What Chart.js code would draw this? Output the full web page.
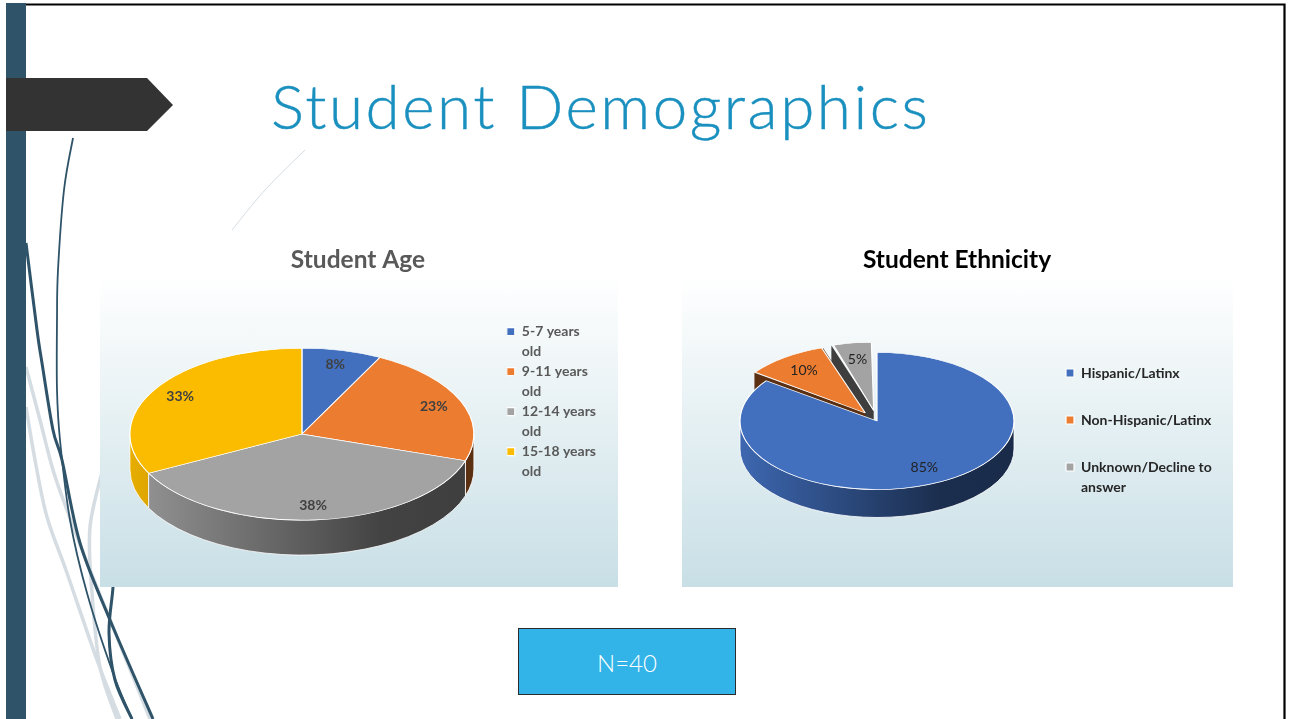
<!DOCTYPE html>
<html>
<head>
<meta charset="utf-8">
<title>Student Demographics</title>
<script src="https://cdn.jsdelivr.net/npm/chart.js@4"></script>
<style>
  html, body { margin: 0; padding: 0; background: #fff; overflow: hidden; }
  body { position: relative; width: 1291px; height: 719px; font-family: Lato, sans-serif; }
  #decor { position: absolute; left: 0; top: 0; }
  .panel { position: absolute; top: 277px; height: 310px; background: linear-gradient(#ffffff, #c8dfe6); }
  canvas.pie { position: absolute; top: 240px; }
  #slideTitle { position: absolute; left: 271px; top: 68px; font: 300 62px Lato, sans-serif; color: #1a90bf; white-space: nowrap; letter-spacing: 2.5px; -webkit-text-stroke: 0.4px #1a90bf; }
  #nBox { position: absolute; left: 518px; top: 627.5px; width: 216px; height: 65px; background: #32b4e8; border: 1.5px solid #2b2b2b;
          color: #fff; font: 300 24px Lato, sans-serif; line-height: 67px; text-align: center; }
</style>
</head>
<body>
<svg id="decor" width="1291" height="719"></svg>
<div class="panel" style="left:100px;width:518px"></div>
<div class="panel" style="left:682px;width:551px"></div>
<div id="slideTitle">Student Demographics</div>
<div id="nBox">N=40</div>
<canvas id="ageChart" class="pie" width="600" height="347" style="left:58px"></canvas>
<canvas id="ethChart" class="pie" width="600" height="347" style="left:657px"></canvas>

<script>
// data (counts out of N=40)
var ageLabels = [['5-7 years', 'old'], ['9-11 years', 'old'], ['12-14 years', 'old'], ['15-18 years', 'old']];
var ageCounts = [3, 9, 15, 13];
var ageColors = ['#4270BF', '#EC7C30', '#A3A3A3', '#FBBC00'];

var ethLabels = ['Hispanic/Latinx', 'Non-Hispanic/Latinx', ['Unknown/Decline to', 'answer']];
var ethCounts = [34, 4, 2];
var ethColors = ['#4270BF', '#EC7C30', '#A3A3A3'];
var ethOffsets = [0, 80, 84];

// slide background: bar, arrow, frame and the swooshes
var darkCurves = [
  [[73,138],[64,190],[58,270],[57,320],[57,390],[60,440],[70,520],[87,593],[113,673],[132,719]],
  [[26,243],[37,330],[42,363],[53,430],[62,460],[80,543],[110,620],[153,719]],
  [[113,560],[113,587],[109,633],[115,680],[132,719]]
];
var greyCurves = [
  [[26,367],[40,420],[53,470],[67,510],[90,570],[113,627],[150,719]],
  [[26,407],[35,460],[47,517],[67,573],[97,660],[120,719]],
  [[104,465],[90,527],[92,593],[100,667],[117,719]],
  [[305,150],[265,190],[232,230]]
];

function smoothPath(pts) {
  var d = 'M' + pts[0][0] + ' ' + pts[0][1];
  for (var i = 0; i < pts.length - 1; i++) {
    var p0 = pts[Math.max(i - 1, 0)], p1 = pts[i], p2 = pts[i + 1], p3 = pts[Math.min(i + 2, pts.length - 1)];
    d += ' C' + (p1[0] + (p2[0] - p0[0]) / 6) + ' ' + (p1[1] + (p2[1] - p0[1]) / 6) + ' ' +
         (p2[0] - (p3[0] - p1[0]) / 6) + ' ' + (p2[1] - (p3[1] - p1[1]) / 6) + ' ' + p2[0] + ' ' + p2[1];
  }
  return d;
}

var svg = '';
greyCurves.forEach(function (c, i) {
  svg += '<path d="' + smoothPath(c) + '" fill="none" stroke="#d5dde3" stroke-width="' + (i === 3 ? 1 : 3.5) + '"/>';
});
darkCurves.forEach(function (c, i) {
  svg += '<path d="' + smoothPath(c) + '" fill="none" stroke="#2f5369" stroke-width="' + (i === 0 ? 1.8 : 3) + '"/>';
});
svg += '<rect x="6" y="3" width="20" height="716" fill="#2f5369"/>';
svg += '<path d="M26 4.5H1284.5V719" fill="none" stroke="#000" stroke-width="2.2"/>';
svg += '<polygon points="6,78 147,78 173,105 147,131 6,131" fill="#333"/>';
document.getElementById('decor').innerHTML = svg;

// flat pie -> tilted 3D pie: squash the tops, draw the walls underneath
function shade(hex, f) {
  var n = parseInt(hex.slice(1), 16);
  return 'rgb(' + Math.round((n >> 16 & 255) * f) + ',' + Math.round((n >> 8 & 255) * f) + ',' + Math.round((n & 255) * f) + ')';
}

var pie3d = {
  id: 'pie3d',
  afterLayout: function (chart) {
    // keep the title centred on the canvas whatever the layout padding is
    chart.titleBlock.left = 0;
    chart.titleBlock.right = chart.width;
  },
  afterDatasetsUpdate: function (chart) {
    // Chart.js grows exploded arcs, take that back so all slices have one radius
    chart.getDatasetMeta(0).data.forEach(function (arc) {
      var shift = (arc.options.offset || 0) / 4;
      if (shift) {
        var fix = 1 - Math.sin(Math.min(Math.PI, arc.circumference));
        arc.outerRadius -= shift * fix;
      }
    });
  },
  beforeDatasetsDraw: function (chart, args, opts) {
    var ctx = chart.ctx, meta = chart.getDatasetMeta(0), colors = chart.data.datasets[0].backgroundColor;
    var R = opts.radius, sq = opts.squash, depth = opts.depth, pivot = meta.data[0].y;
    ctx.save();
    for (var i = meta.data.length - 1; i >= 0; i--) {
      var arc = meta.data[i], base = colors[i];
      var shift = (arc.options.offset || 0) / 4;
      var mid = (arc.startAngle + arc.endAngle) / 2;
      var cx = arc.x + Math.cos(mid) * shift;
      var cy = pivot + Math.sin(mid) * shift * sq;

      if (shift) {
        // cut faces of the pulled out slices
        [arc.startAngle, arc.endAngle].forEach(function (a) {
          ctx.beginPath();
          ctx.moveTo(cx, cy);
          ctx.lineTo(cx + R * Math.cos(a), cy + R * sq * Math.sin(a));
          ctx.lineTo(cx + R * Math.cos(a), cy + depth + R * sq * Math.sin(a));
          ctx.lineTo(cx, cy + depth);
          ctx.closePath();
          ctx.fillStyle = shade(base, 0.38);
          ctx.fill();
        });
      }

      var a0 = Math.max(arc.startAngle, 0), a1 = Math.min(arc.endAngle, Math.PI);
      if (a1 > a0) {
        var grad = ctx.createLinearGradient(arc.x - R, 0, arc.x + R, 0);
        grad.addColorStop(0, shade(base, 0.92));
        grad.addColorStop(0.73, shade(base, 0.41));
        grad.addColorStop(1, shade(base, 0.38));
        ctx.beginPath();
        ctx.ellipse(cx, cy, R, R * sq, 0, a0, a1);
        ctx.ellipse(cx, cy + depth, R, R * sq, 0, a1, a0, true);
        ctx.closePath();
        ctx.fillStyle = grad;
        ctx.fill();
        ctx.strokeStyle = 'rgba(255,255,255,0.8)';
        ctx.lineWidth = 1;
        ctx.stroke();
      }
    }
    ctx.restore();
    ctx.save();
    ctx.translate(0, pivot);
    ctx.scale(1, sq);
    ctx.translate(0, -pivot);
  },
  afterDatasetsDraw: function (chart, args, opts) {
    var ctx = chart.ctx, meta = chart.getDatasetMeta(0), values = chart.data.datasets[0].data;
    ctx.restore();
    var total = values.reduce(function (a, b) { return a + b; }, 0);
    var pivot = meta.data[0].y;
    ctx.save();
    ctx.font = opts.labelFont;
    ctx.fillStyle = opts.labelColor;
    ctx.textAlign = 'center';
    ctx.textBaseline = 'middle';
    meta.data.forEach(function (arc, i) {
      var shift = (arc.options.offset || 0) / 4;
      var mid = (arc.startAngle + arc.endAngle) / 2;
      var r = opts.radius * opts.labelRatio + shift;
      ctx.fillText(Math.round(values[i] * 100 / total) + '%', arc.x + Math.cos(mid) * r, pivot + Math.sin(mid) * r * opts.squash);
    });
    ctx.restore();
  }
};

function pieOptions(titleText, titleColor, legendColor, legendPadding, legendMaxWidth, titleGap, padding, plugin3d) {
  return {
    responsive: false,
    animation: false,
    events: [],
    layout: { padding: padding },
    plugins: {
      title: {
        display: true,
        text: titleText,
        color: titleColor,
        font: { family: 'Lato', size: 24.5, weight: 'bold', lineHeight: 1.2 },
        padding: { top: 5, bottom: titleGap }
      },
      legend: {
        position: 'right',
        align: 'start',
        fullSize: false,
        maxWidth: legendMaxWidth,
        labels: {
          boxWidth: 8,
          boxHeight: 8,
          padding: legendPadding,
          color: legendColor,
          font: { family: 'Lato', size: 14, weight: 'bold', lineHeight: 20 / 14 }
        }
      },
      tooltip: { enabled: false },
      pie3d: plugin3d
    }
  };
}

new Chart(document.getElementById('ageChart').getContext('2d'), {
  type: 'pie',
  plugins: [pie3d],
  data: {
    labels: ageLabels,
    datasets: [{
      data: ageCounts,
      backgroundColor: ageColors,
      borderColor: '#fff',
      borderWidth: 1.2,
      radius: 172,
      clip: false
    }]
  },
  options: pieOptions('Student Age', '#595959', '#595959', 0, undefined, 50.3,
    { left: 39, right: 52, top: 0, bottom: 43.5 },
    { radius: 172, squash: 0.5, depth: 35, labelRatio: 0.83, labelFont: 'bold 14px Lato', labelColor: '#404040' })
});

new Chart(document.getElementById('ethChart').getContext('2d'), {
  type: 'pie',
  plugins: [pie3d],
  data: {
    labels: ethLabels,
    datasets: [{
      data: ethCounts,
      backgroundColor: ethColors,
      offset: ethOffsets,
      borderColor: '#fff',
      borderWidth: 1.2,
      radius: 137,
      clip: false
    }]
  },
  options: pieOptions('Student Ethnicity', '#000', '#262626', 33, 195, 58.6,
    { left: 64, right: 29, top: 0, bottom: 78 },
    { radius: 137, squash: 0.5, depth: 28, labelRatio: 0.76, labelFont: '14px Lato', labelColor: '#222' })
});
</script>
</body>
</html>
